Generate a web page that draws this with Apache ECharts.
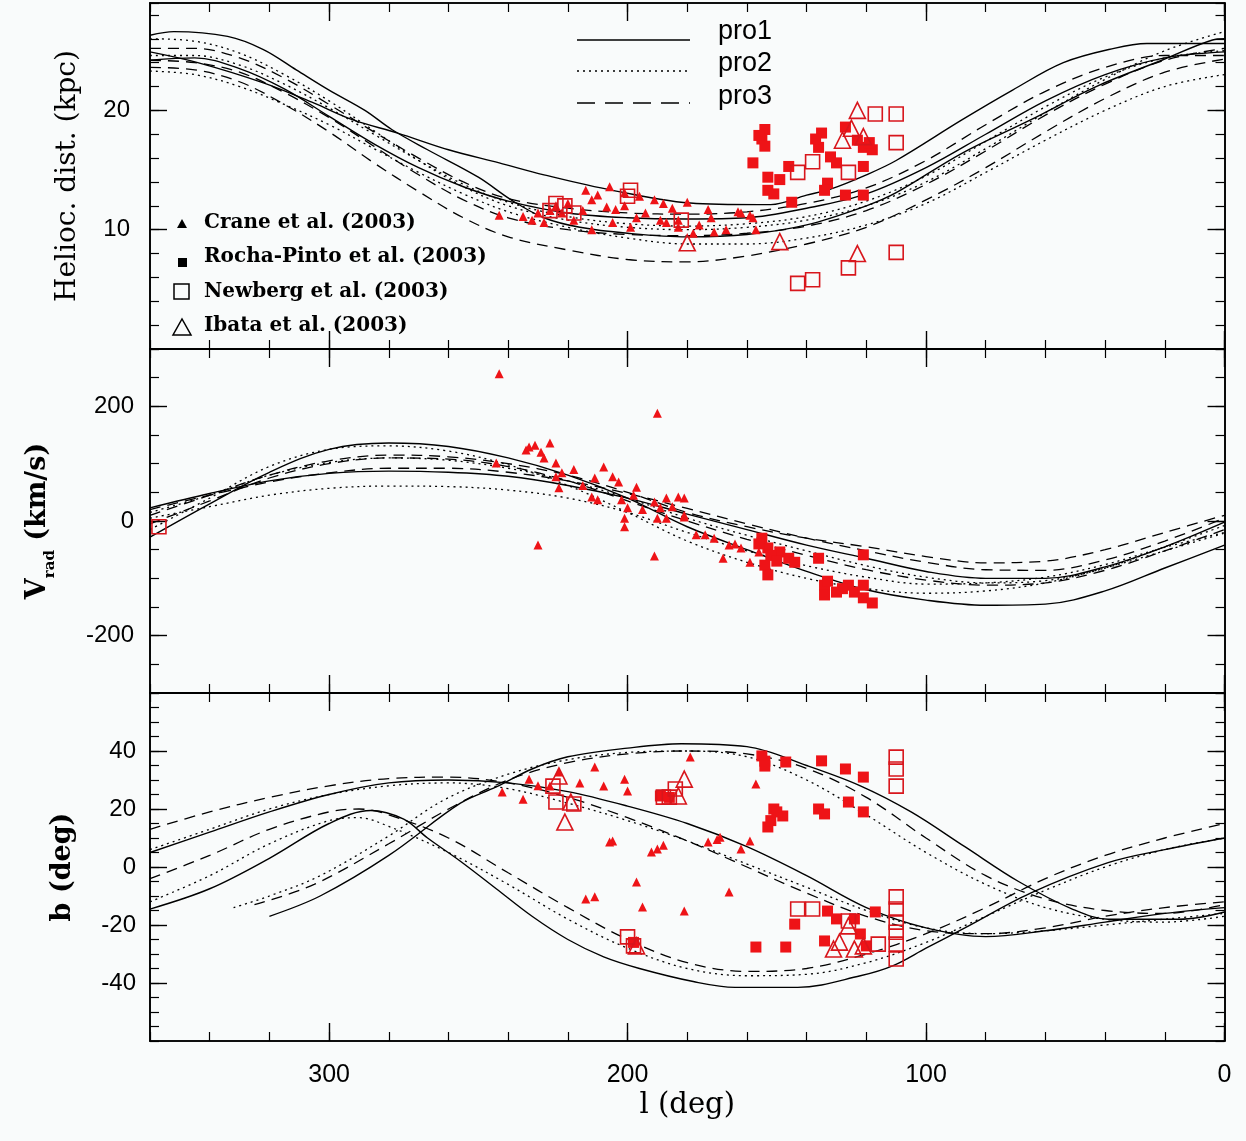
<!DOCTYPE html>
<html><head><meta charset="utf-8">
<script src="https://cdn.jsdelivr.net/npm/echarts@6/dist/echarts.min.js"></script>
<style>html,body{margin:0;padding:0;background:#f9fbfb}#c{width:1246px;height:1141px}</style>
</head><body><div id="c"></div><script>
// ---------- tick / label values ----------
const xMajor = [0, 100, 200, 300];
const distMajor = [10, 20];
const vradMajor = [-200, 0, 200];
const bMajor = [-40, -20, 0, 20, 40];

// ---------- model curves: heliocentric distance ----------
const distPro1a = [[360,26.3],[352,26.6],[334,26.2],[322,25.1],[311,23.4],[300,21.7],[288,20.0],[279,18.4],[267,16.7],[250,14.4],[239,12.5],[228,11.0],[216,10.2],[200,9.7],[180,9.4],[160,9.6],[140,10.4],[120,12.0],[110,13.1],[88,16.4],[65,19.2],[43,22.0],[21,24.2],[4,25.9],[0,26.0]];
const distPro1b = [[360,24.9],[344,24.0],[322,22.3],[305,20.6],[292,19.2],[277,18.1],[260,16.7],[243,15.6],[228,14.6],[205,13.3],[177,12.2],[152,12.1],[140,12.9],[132,13.4],[120,14.6],[110,15.8],[88,19.2],[71,21.7],[54,24.0],[37,25.2],[26,25.6],[9,25.6],[0,25.6]];
const distPro1c = [[360,24.2],[345,24.4],[330,23.5],[315,21.8],[300,19.5],[285,17.2],[270,15.2],[255,13.6],[240,12.4],[220,11.4],[200,11.0],[180,10.9],[160,11.0],[140,11.8],[120,13.0],[100,15.2],[80,18.0],[60,20.8],[40,23.0],[20,24.4],[0,24.9]];
const distPro2a = [[360,26.0],[345,25.8],[330,24.8],[315,23.0],[300,20.8],[285,18.3],[270,15.8],[255,13.6],[240,12.0],[220,10.8],[200,10.2],[180,10.0],[160,10.2],[140,10.8],[120,12.0],[100,14.0],[80,16.8],[60,19.8],[40,22.6],[20,25.0],[0,26.6]];
const distPro2b = [[360,23.3],[345,23.0],[330,22.0],[315,20.5],[300,18.8],[285,16.8],[270,14.8],[255,13.0],[240,11.5],[220,10.2],[200,9.3],[180,8.8],[160,8.8],[140,9.3],[120,10.4],[100,12.2],[80,14.8],[60,17.5],[40,20.0],[20,22.0],[0,23.0]];
const distPro2c = [[360,24.6],[345,24.6],[330,23.8],[315,22.2],[300,20.2],[285,18.0],[270,15.8],[255,13.8],[240,12.3],[220,11.1],[200,10.5],[180,10.3],[160,10.5],[140,11.1],[120,12.4],[100,14.5],[80,17.4],[60,20.3],[40,22.8],[20,24.4],[0,25.0]];
const distPro3a = [[360,23.6],[345,23.4],[330,22.4],[315,20.5],[300,18.2],[285,15.6],[270,13.2],[255,11.0],[240,9.4],[220,8.3],[200,7.5],[180,7.3],[160,7.8],[140,8.8],[120,10.2],[100,12.5],[80,15.2],[60,18.2],[40,21.0],[20,23.2],[0,24.3]];
const distPro3b = [[360,24.2],[345,24.0],[330,23.2],[315,21.5],[300,19.4],[285,17.0],[270,14.6],[255,12.5],[240,11.0],[220,10.0],[200,9.6],[180,9.5],[160,9.7],[140,10.3],[120,11.6],[100,13.8],[80,16.6],[60,19.6],[40,22.2],[20,24.2],[0,25.2]];
const distPro3c = [[360,25.2],[345,25.2],[330,24.4],[315,22.7],[300,20.5],[285,18.2],[270,16.0],[255,14.0],[240,12.6],[220,11.8],[200,11.4],[180,11.3],[160,11.5],[140,12.2],[120,13.5],[100,15.8],[80,18.8],[60,21.6],[40,23.6],[20,24.6],[0,24.6]];

// ---------- model curves: radial velocity ----------
const vradPro1a = [[360,-28],[340,30],[320,85],[300,125],[280,136],[260,130],[240,110],[220,80],[200,40],[180,-10],[160,-50],[140,-88],[120,-120],[100,-138],[80,-147],[60,-145],[40,-122],[20,-82],[0,-42]];
const vradPro1b = [[360,23],[340,48],[320,70],[300,83],[280,87],[260,85],[240,78],[220,62],[200,40],[180,12],[160,-15],[140,-42],[120,-65],[100,-88],[80,-100],[60,-100],[40,-80],[20,-45],[0,-2]];
const vradPro2a = [[360,-15],[340,40],[320,95],[300,125],[280,131],[260,122],[240,98],[220,62],[200,15],[180,-35],[160,-72],[140,-100],[120,-118],[100,-126],[80,-122],[60,-108],[40,-82],[20,-52],[0,-21]];
const vradPro2b = [[360,5],[340,25],[320,45],[300,57],[280,61],[260,60],[240,54],[220,40],[200,15],[180,-20],[160,-52],[140,-78],[120,-98],[100,-110],[80,-108],[60,-98],[40,-76],[20,-46],[0,-20]];
const vradPro2c = [[360,15],[340,45],[320,80],[300,102],[280,110],[260,106],[240,92],[220,70],[200,40],[180,5],[160,-25],[140,-52],[120,-78],[100,-98],[80,-108],[60,-104],[40,-82],[20,-45],[0,-8]];
const vradPro3a = [[360,10],[340,45],[320,80],[300,105],[280,115],[260,112],[240,100],[220,80],[200,50],[180,15],[160,-10],[140,-30],[120,-45],[100,-62],[80,-73],[60,-70],[40,-50],[20,-20],[0,10]];
const vradPro3b = [[360,-5],[340,35],[320,75],[300,100],[280,110],[260,108],[240,95],[220,70],[200,35],[180,0],[160,-32],[140,-60],[120,-85],[100,-103],[80,-112],[60,-108],[40,-86],[20,-52],[0,-15]];
const vradPro3c = [[360,20],[340,45],[320,68],[300,84],[280,92],[260,92],[240,85],[220,70],[200,48],[180,22],[160,-5],[140,-30],[120,-52],[100,-72],[80,-85],[60,-86],[40,-68],[20,-35],[0,5]];

// ---------- model curves: galactic latitude ----------
const bPro1a = [[360,5],[340,12],[320,19],[300,25],[280,29],[260,30],[240,29],[220,26],[200,21],[180,15],[160,7],[140,-3],[120,-14],[100,-21],[80,-24],[60,-22],[40,-19],[20,-16],[0,-14]];
const bPro1b = [[360,-14.5],[340,-7.5],[320,3],[300,15],[286,19.5],[275,16.5],[267,10],[256,2],[244,-7.5],[232,-17],[220,-25],[208,-31],[196,-35],[178,-39.5],[164,-41.5],[143,-41.5],[122,-37.5],[111,-34],[100,-28],[87,-21],[65,-9],[39,1.5],[20,6],[0,10]];
const bPro1c = [[320,-17],[303,-10],[280,4],[256,22],[244,27.6],[232,33.8],[220,38],[200,41],[182,42.5],[160,41.5],[140,35],[122,28],[105,19],[87,7],[69,-5],[51,-14.5],[39,-18],[15,-18],[0,-15.5]];
const bPro2a = [[360,6],[340,13],[320,20],[300,25],[280,28],[260,29],[240,27],[220,22],[200,16],[180,9],[160,1],[140,-7],[120,-15],[100,-21],[80,-23],[60,-22],[40,-20],[20,-18],[0,-16]];
const bPro2b = [[360,-12],[340,-3],[320,8],[300,16],[290,17],[280,14],[260,5],[240,-6],[220,-18],[200,-28],[180,-35],[160,-37.5],[140,-37],[120,-33],[100,-26],[80,-17],[60,-8],[40,0],[20,6],[0,10]];
const bPro2c = [[332,-14],[320,-10],[303,-3],[280,10.7],[261,23.4],[240,32],[220,37],[200,39.5],[180,40],[160,38],[140,30],[120,18],[100,5],[80,-6],[60,-14],[40,-18],[20,-19],[0,-17]];
const bPro3a = [[360,13],[340,19],[320,24],[300,28],[280,30.5],[260,31],[240,29],[220,24],[200,17],[180,9],[160,0],[140,-9],[120,-17],[100,-22],[80,-23],[60,-21],[40,-17],[20,-14],[0,-12]];
const bPro3b = [[360,-4],[340,4],[320,13],[300,19],[290,20],[280,18],[260,10],[240,-2],[220,-14],[200,-25],[180,-33],[160,-36],[140,-35],[120,-30],[100,-23],[80,-14],[60,-4],[40,4],[20,10],[0,15]];
const bPro3c = [[325,-13],[305,-6],[280,8],[260,20],[240,30],[220,36],[200,39],[180,40],[160,39],[140,34],[120,24],[100,10],[80,-3],[60,-11],[40,-15],[20,-16],[0,-13]];

// ---------- observations ----------
const craneDist = [[243,11.2],[235,11.1],[232,10.8],[226,11.6],[224,12.0],[222,11.4],[220,12.2],[212,12.5],[206,13.6],[207,11.9],[212,10.0],[205,10.6],[204,11.7],[199,10.2],[197,11.0],[191,12.5],[188,12.2],[189,10.8],[187,10.6],[183,10.8],[183,10.2],[180,12.3],[178,9.7],[173,11.7],[172,11.0],[171,9.8],[167,10.0],[163,11.5],[162,11.4],[159,11.2],[158,11.0],[157,10.0],[228,10.6],[230,11.4],[218,10.8],[215,11.6],[210,12.9],[201,12.0],[194,11.4],[185,11.8],[176,10.4],[201,13.1],[214,13.3],[196,12.8]];
const rochaDist = [[154,18.4],[155,17.6],[154,17.0],[158,15.6],[153,14.4],[153,13.3],[149,14.2],[146,15.3],[145,12.3],[135,18.1],[136,16.9],[132,16.1],[133,13.9],[127,18.6],[121,16.9],[118,16.7],[121,15.3],[127,12.9],[121,12.9],[130,15.6],[134,13.3],[119,17.3],[123,17.5],[151,13.0],[156,17.9],[137,17.6]];
const newbergDist = [[224,12.2],[218,11.4],[226,11.6],[221,12.0],[199,13.3],[200,12.8],[182,10.8],[117,19.7],[110,19.7],[110,17.3],[138,15.7],[143,14.8],[126,14.8],[110,8.1],[126,6.8],[143,5.5],[138,5.8]];
const ibataDist = [[180,8.9],[149,9.0],[123,20.0],[128,17.5],[121,17.8],[123,8.0],[125,18.5]];

const craneVrad = [[243,257],[190,188],[230,-42],[191,-61],[234,124],[233,129],[229,120],[226,136],[228,110],[224,101],[244,101],[224,77],[222,84],[223,58],[211,75],[208,94],[205,77],[203,68],[212,42],[210,37],[202,37],[197,59],[198,45],[200,23],[201,5],[201,-10],[191,33],[187,40],[183,42],[189,23],[190,5],[187,5],[181,7],[177,-24],[181,40],[181,10],[174,-24],[168,-65],[166,-42],[162,-47],[159,-72],[156,-54],[231,132],[218,90],[215,62],[195,20],[185,25],[171,-30],[164,-40]];
const rochaVrad = [[155,-30],[153,-47],[154,-77],[153,-94],[149,-54],[146,-65],[144,-72],[136,-65],[134,-112],[134,-129],[130,-124],[126,-112],[124,-124],[121,-59],[121,-112],[121,-134],[118,-143],[152,-60],[156,-40],[133,-105],[128,-118],[150,-70]];
const newbergVrad = [[357,-10]];

const craneB = [[242,25.9],[235,23.4],[233,30.3],[226,27.9],[223,32.8],[211,34.5],[208,27.9],[201,30.3],[200,26.2],[205,9],[206,8.6],[190,6.2],[192,5.2],[197,-5.2],[214,-11],[211,-10.3],[195,-13.8],[181,-15.2],[169,10.3],[173,8.6],[159,9.0],[162,6.2],[166,-8.6],[179,37.9],[157,28.6],[230,28],[216,29],[188,7.5],[170,9.5]];
const rochaB = [[155,38.3],[154,36.5],[154,34.8],[147,36.2],[135,36.6],[127,33.8],[121,31],[151,20],[148,17.6],[153,13.8],[152,16],[136,20],[134,18.3],[126,22.4],[121,19],[157,-27.6],[147,-27.6],[144,-19.7],[133,-15.2],[130,-17.9],[134,-25.5],[124,-17.9],[122,-23.1],[117,-15.5],[120,-27.2],[189,24.5],[186,24],[198,-26],[150,19]];
const newbergB = [[225,27.9],[224,22.4],[218,21.7],[200,-24.1],[198,-27.2],[188,24.1],[186,24.1],[184,26.9],[110,37.9],[110,33.8],[110,27.9],[110,-10.3],[110,-14.5],[110,-19],[110,-22.5],[110,-26.6],[110,-31.7],[143,-14.5],[138,-14.5],[116,-26.6],[126,-18.6]];
const ibataB = [[223,31.4],[221,15.5],[219,22.4],[181,30.3],[183,24.5],[197,-27.2],[126,-20.3],[131,-28.3],[124,-28.3],[121,-27.2],[129,-25.9]];

// ---------- layout ----------
const grids = [{top:3,height:346},{top:349,height:344},{top:693,height:348}];
const yRanges = [
  {min:0,max:29,minor:2,major:distMajor,margin:20},
  {min:-300,max:300,minor:50,major:vradMajor,margin:16},
  {min:-60,max:60,minor:5,major:bMajor,margin:14}
];
const yNames = [
  {name:'Helioc. dist. (kpc)', gap:68, style:{fontFamily:'DejaVu Serif',fontSize:28,color:'#000'}},
  {name:'{v|V}{s|rad}{v| (km/s)}', gap:92, style:{color:'#000',rich:{
      v:{fontFamily:'DejaVu Serif',fontSize:27,fontWeight:'bold',color:'#000',verticalAlign:'middle',lineHeight:40},
      s:{fontFamily:'DejaVu Serif',fontSize:15,fontWeight:'bold',color:'#000',verticalAlign:'bottom',lineHeight:16}}}},
  {name:'b (deg)', gap:74, style:{fontFamily:'DejaVu Serif',fontSize:27,fontWeight:'bold',color:'#000'}}
];
const line = {show:true,onZero:false,lineStyle:{color:'#000',width:1.6}};
const xAxis = [], yAxis = [];
grids.forEach((g,gi)=>{
  ['bottom','top'].forEach(pos=>{
    xAxis.push({type:'value',gridIndex:gi,position:pos,min:0,max:360,interval:20,inverse:true,
      axisLine:line,axisTick:{show:true,inside:true,length:9,lineStyle:{color:'#000',width:1.2}},
      axisLabel:{show:false},splitLine:{show:false}});
    const showLab = (gi===2 && pos==='bottom');
    xAxis.push({type:'value',gridIndex:gi,position:pos,min:0,max:360,interval:20,inverse:true,
      axisLine:line,axisTick:{show:true,inside:true,length:18,customValues:xMajor,lineStyle:{color:'#000',width:1.4}},
      axisLabel:showLab?{show:true,customValues:xMajor,margin:22,fontSize:25,fontFamily:'Liberation Sans',color:'#000'}:{show:false},
      splitLine:{show:false},
      name:showLab?'l (deg)':'',nameLocation:'middle',nameGap:50,
      nameTextStyle:{fontFamily:'DejaVu Serif',fontSize:29,color:'#000'}});
  });
  const r = yRanges[gi];
  ['left','right'].forEach(pos=>{
    yAxis.push({type:'value',gridIndex:gi,position:pos,min:r.min,max:r.max,interval:r.minor,
      axisLine:line,axisTick:{show:true,inside:true,length:9,lineStyle:{color:'#000',width:1.2}},
      axisLabel:{show:false},splitLine:{show:false}});
    const showLab = pos==='left';
    yAxis.push({type:'value',gridIndex:gi,position:pos,min:r.min,max:r.max,interval:r.minor,
      axisLine:line,axisTick:{show:true,inside:true,length:17,customValues:r.major,lineStyle:{color:'#000',width:1.4}},
      axisLabel:showLab?{show:true,customValues:r.major,margin:r.margin,fontSize:24,fontFamily:'Liberation Sans',color:'#000'}:{show:false},
      splitLine:{show:false},
      name:showLab?yNames[gi].name:'',nameLocation:'middle',nameGap:yNames[gi].gap,nameTextStyle:yNames[gi].style});
  });
});

const styles = {pro1:'solid', pro2:[2,4], pro3:[11,7]};
const curveSets = [
  [[distPro1a,'pro1'],[distPro1b,'pro1'],[distPro1c,'pro1'],[distPro2a,'pro2'],[distPro2b,'pro2'],[distPro2c,'pro2'],[distPro3a,'pro3'],[distPro3b,'pro3'],[distPro3c,'pro3']],
  [[vradPro1a,'pro1'],[vradPro1b,'pro1'],[vradPro2a,'pro2'],[vradPro2b,'pro2'],[vradPro2c,'pro2'],[vradPro3a,'pro3'],[vradPro3b,'pro3'],[vradPro3c,'pro3']],
  [[bPro1a,'pro1'],[bPro1b,'pro1'],[bPro1c,'pro1'],[bPro2a,'pro2'],[bPro2b,'pro2'],[bPro2c,'pro2'],[bPro3a,'pro3'],[bPro3b,'pro3'],[bPro3c,'pro3']]
];
const obsSets = [
  {crane:craneDist, rocha:rochaDist, newberg:newbergDist, ibata:ibataDist},
  {crane:craneVrad, rocha:rochaVrad, newberg:newbergVrad, ibata:[]},
  {crane:craneB, rocha:rochaB, newberg:newbergB, ibata:ibataB}
];
const RED = '#ee1317', DRED = '#d8161c';
const series = [];
curveSets.forEach((set,gi)=>{
  set.forEach(([data,name])=>{
    series.push({type:'line',name:name,xAxisIndex:gi*4,yAxisIndex:gi*4,data:data,smooth:0.35,
      symbol:'none',silent:true,z:2,lineStyle:{color:'#000',width:name==='pro1'?1.4:1.3,type:styles[name]}});
  });
});
obsSets.forEach((o,gi)=>{
  const ax = {xAxisIndex:gi*4,yAxisIndex:gi*4,z:5,silent:true};
  series.push(Object.assign({type:'scatter',name:'Crane et al. (2003)',data:o.crane,symbol:'triangle',symbolSize:9,itemStyle:{color:RED,opacity:1}},ax));
  series.push(Object.assign({type:'scatter',name:'Rocha-Pinto et al. (2003)',data:o.rocha,symbol:'rect',symbolSize:11,itemStyle:{color:RED,opacity:1}},ax));
  series.push(Object.assign({type:'scatter',name:'Newberg et al. (2003)',data:o.newberg,symbol:'rect',symbolSize:14,itemStyle:{color:'rgba(0,0,0,0)',borderColor:DRED,borderWidth:1.6,opacity:1}},ax));
  series.push(Object.assign({type:'scatter',name:'Ibata et al. (2003)',data:o.ibata,symbol:'triangle',symbolSize:16,itemStyle:{color:'rgba(0,0,0,0)',borderColor:DRED,borderWidth:1.6,opacity:1}},ax));
});

const legFont = {fontFamily:'DejaVu Serif',fontSize:20,fontWeight:'bold',fill:'#000',verticalAlign:'middle'};
const graphic = [
  {type:'line',shape:{x1:577,y1:40,x2:690,y2:40},style:{stroke:'#000',lineWidth:1.5}},
  {type:'line',shape:{x1:577,y1:71,x2:690,y2:71},style:{stroke:'#000',lineWidth:1.5,lineDash:[2,4]}},
  {type:'line',shape:{x1:577,y1:103,x2:690,y2:103},style:{stroke:'#000',lineWidth:1.5,lineDash:[18,10]}},
  {type:'text',x:718,y:32,style:{text:'pro1',fontFamily:'Liberation Sans',fontSize:27,fill:'#000',verticalAlign:'middle'}},
  {type:'text',x:718,y:64,style:{text:'pro2',fontFamily:'Liberation Sans',fontSize:27,fill:'#000',verticalAlign:'middle'}},
  {type:'text',x:718,y:97,style:{text:'pro3',fontFamily:'Liberation Sans',fontSize:27,fill:'#000',verticalAlign:'middle'}},
  {type:'polygon',shape:{points:[[177,228],[187,228],[182,219]]},style:{fill:'#000'}},
  {type:'rect',shape:{x:178,y:258,width:9,height:9},style:{fill:'#000'}},
  {type:'rect',shape:{x:174,y:284,width:15,height:15},style:{fill:'none',stroke:'#000',lineWidth:1.5}},
  {type:'polygon',shape:{points:[[173,335],[191,335],[182,319]]},style:{fill:'none',stroke:'#000',lineWidth:1.5}},
  {type:'text',x:204,y:223,style:Object.assign({text:'Crane et al. (2003)'},legFont)},
  {type:'text',x:204,y:257,style:Object.assign({text:'Rocha-Pinto et al. (2003)'},legFont)},
  {type:'text',x:204,y:292,style:Object.assign({text:'Newberg et al. (2003)'},legFont)},
  {type:'text',x:204,y:326,style:Object.assign({text:'Ibata et al. (2003)'},legFont)}
];

const chart = echarts.init(document.getElementById('c'));
chart.setOption({
  backgroundColor:'#f9fbfb',
  animation:false,
  grid:grids.map(g=>({left:150,right:21.5,top:g.top,height:g.height,containLabel:false})),
  xAxis:xAxis, yAxis:yAxis, series:series, graphic:graphic
});
</script></body></html>
